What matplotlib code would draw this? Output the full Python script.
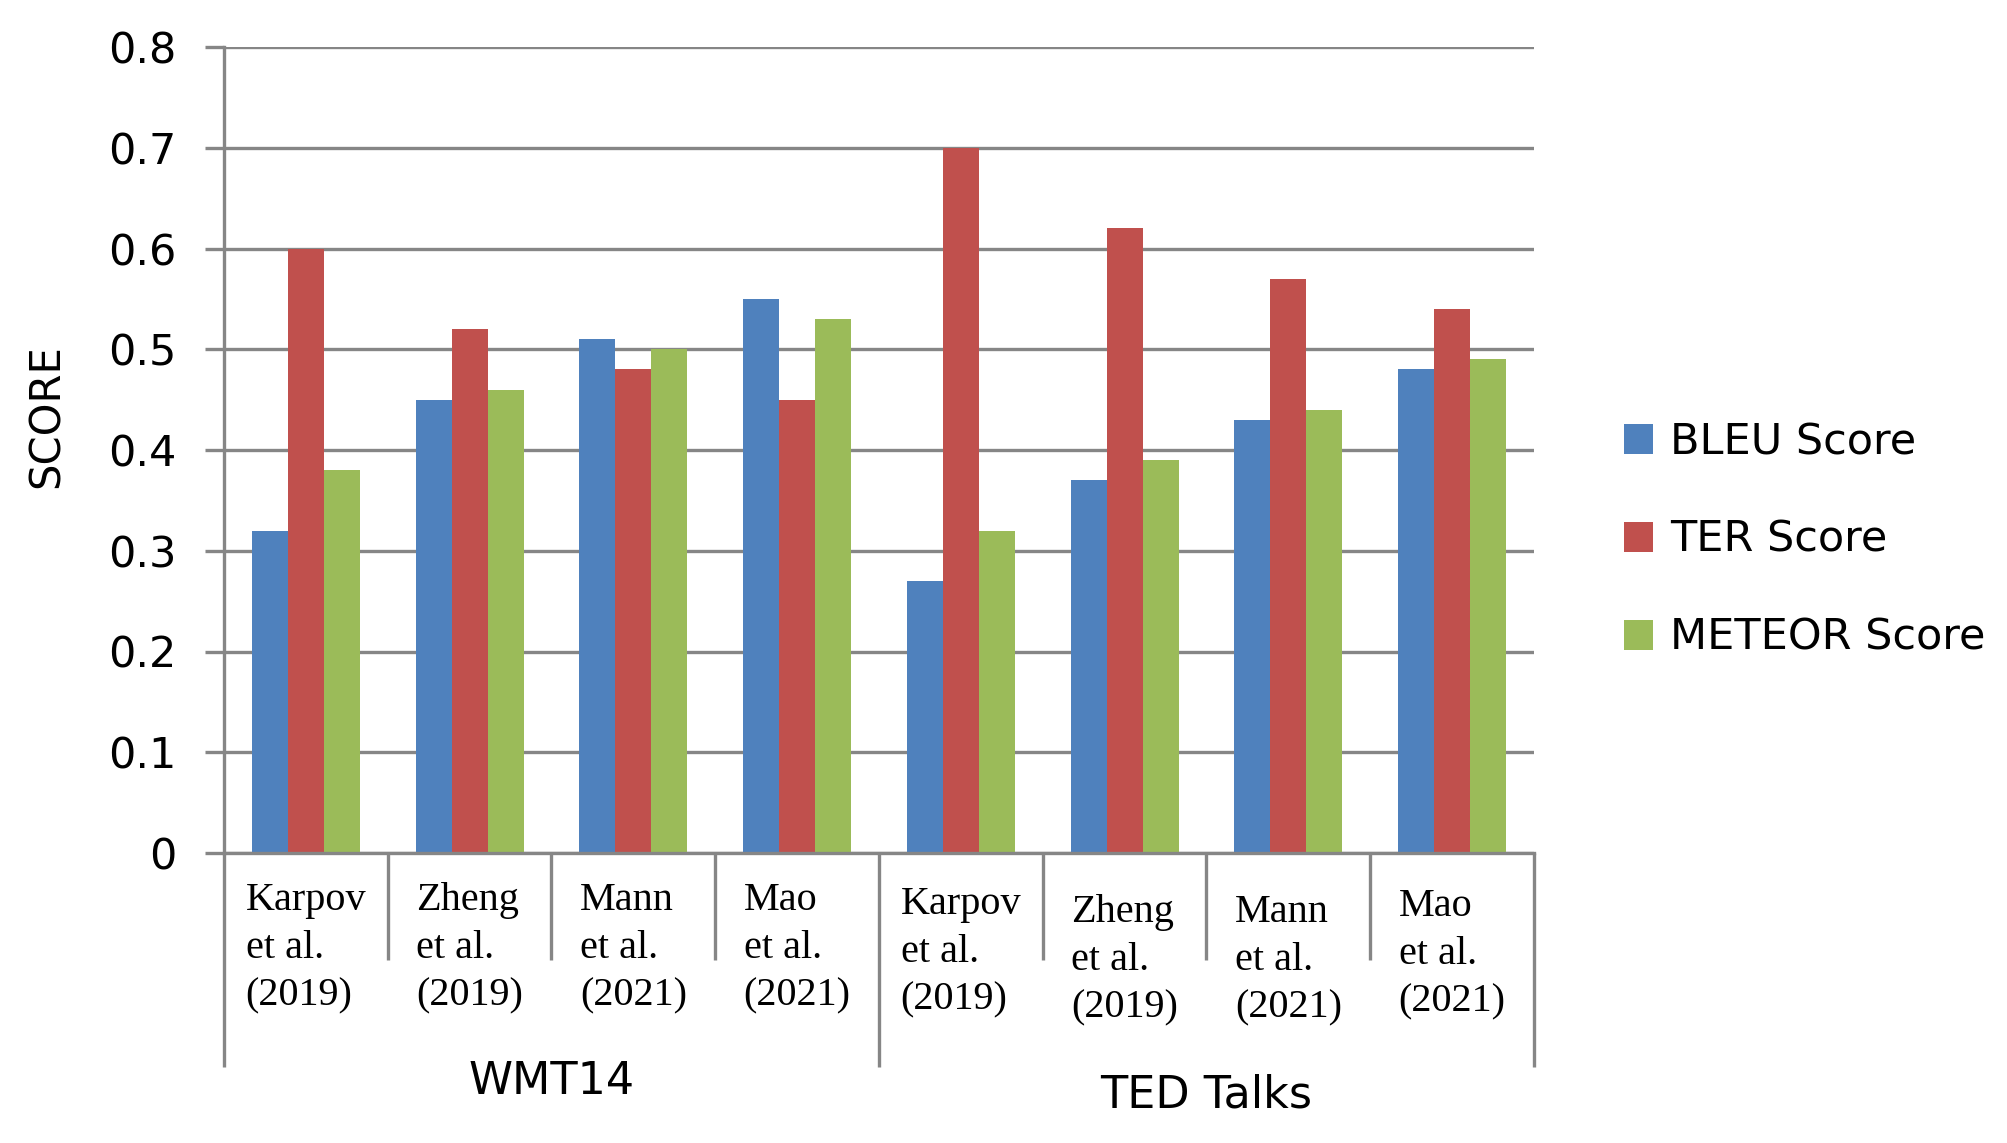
import matplotlib
matplotlib.use("Agg")
import matplotlib.pyplot as plt
import matplotlib.transforms as mtransforms
import numpy as np

groups = ["WMT14", "TED Talks"]
methods = ["Karpov\net al.\n(2019)", "Zheng\net al.\n(2019)", "Mann\net al.\n(2021)", "Mao\net al.\n(2021)"]
categories = methods + methods
series_names = ["BLEU Score", "TER Score", "METEOR Score"]
bleu = [0.32, 0.45, 0.51, 0.55, 0.27, 0.37, 0.43, 0.48]
ter = [0.60, 0.52, 0.48, 0.45, 0.70, 0.62, 0.57, 0.54]
meteor = [0.38, 0.46, 0.50, 0.53, 0.32, 0.39, 0.44, 0.49]
yticks = [0, 0.1, 0.2, 0.3, 0.4, 0.5, 0.6, 0.7, 0.8]
ytick_labels = ["0", "0.1", "0.2", "0.3", "0.4", "0.5", "0.6", "0.7", "0.8"]

colors = ["#4F81BD", "#C0504D", "#9BBB59"]
grid_col = "#868686"

W, H = 2008, 1143
fig = plt.figure(figsize=(W / 100, H / 100), dpi=100)
x0, x1, ytop, ybot = 224, 1534, 47, 853
ax = fig.add_axes([x0 / W, 1 - ybot / H, (x1 - x0) / W, (ybot - ytop) / H])
ax_h_px = ybot - ytop

n = len(categories)
x = np.arange(n) + 0.5
bw = 0.22
for k, vals in enumerate([bleu, ter, meteor]):
    ax.bar(x + (k - 1) * bw, vals, width=bw, color=colors[k], label=series_names[k], zorder=3)

ax.set_xlim(0, n)
ax.set_ylim(0, 0.8)
ax.set_yticks(yticks)
ax.set_yticklabels(ytick_labels, fontsize=31, family="DejaVu Sans")
ax.set_xticks([])
ax.yaxis.grid(True, color=grid_col, linewidth=2.4, zorder=0)
ax.tick_params(axis="y", length=14, width=2.4, color=grid_col, pad=20)
for s in ["top", "right"]:
    ax.spines[s].set_visible(False)
for s in ["left", "bottom"]:
    ax.spines[s].set_color(grid_col)
    ax.spines[s].set_linewidth(2.4)
    ax.spines[s].set_zorder(4)

trans = mtransforms.blended_transform_factory(ax.transData, ax.transAxes)

def ay(px):
    return (ybot - px) / ax_h_px

# dividers
for b in range(n + 1):
    low = 1067 if b % 4 == 0 else 960
    ax.plot([b, b], [0, ay(low)], transform=trans, color=grid_col, lw=2.4,
            clip_on=False, solid_capstyle="butt", zorder=4)

# category labels
label_dy = [0, 0, 0, 0, 4, 12, 12, 6]
for i, lab in enumerate(categories):
    ax.text(i + 0.5, ay(882 + label_dy[i]), lab, transform=trans, ha="center", va="top",
            multialignment="left", fontsize=29, family="Liberation Serif", linespacing=1.38)

# group labels
group_y = [1082, 1095]
for g, name in enumerate(groups):
    ax.text(g * 4 + 2, ay(group_y[g]), name, transform=trans, ha="center", va="center",
            fontsize=32, family="DejaVu Sans")

fig.text(47 / W, 1 - 416 / H, "SCORE", rotation=90, ha="center", va="center",
         fontsize=30, family="DejaVu Sans")

fig.legend(loc="center left", bbox_to_anchor=(1624 / W, 1 - 540 / H), frameon=False,
           handlelength=0.67, handleheight=0.67, handletextpad=0.4,
           labelspacing=1.3, borderpad=0, borderaxespad=0,
           prop={"family": "DejaVu Sans", "size": 31})

fig.savefig("out.png", dpi=100)
